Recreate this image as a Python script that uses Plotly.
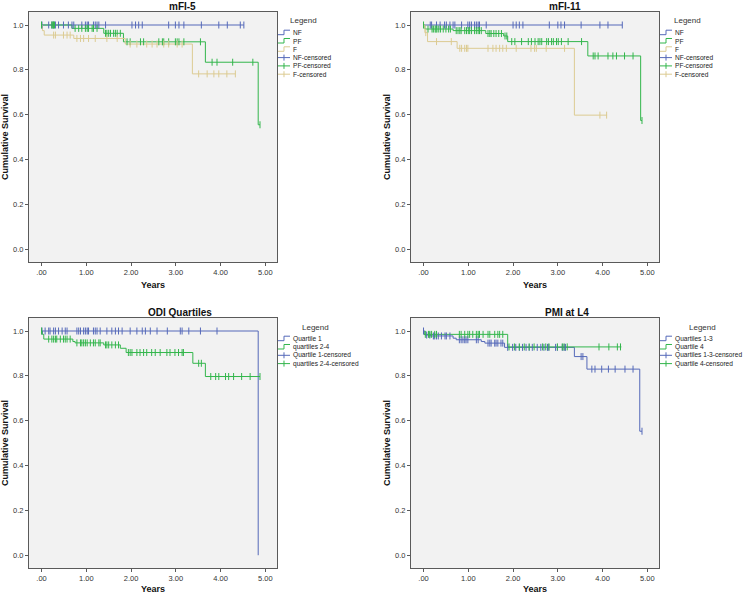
import plotly.graph_objects as go

# ---- data (time in years) ----
x_ticks = [0, 1, 2, 3, 4, 5]
x_tick_text = ['.00', '1.00', '2.00', '3.00', '4.00', '5.00']
y_ticks = [0, 0.2, 0.4, 0.6, 0.8, 1.0]

# mFI-5
mfi5_nf_events, mfi5_nf_surv, mfi5_nf_end = [], [], 4.52
mfi5_nf_cens = [0.01, 0.16, 0.23, 0.27, 0.31, 0.38, 0.49, 0.60, 0.68, 0.72, 0.90, 0.98, 1.02, 1.05,
                1.16, 1.20, 1.24, 1.28, 1.43, 2.02, 2.10, 2.17, 2.25, 2.84, 2.99, 3.07, 3.18, 3.57,
                3.96, 4.15, 4.44, 4.52]
mfi5_pf_events = [0.68, 1.39, 1.83, 3.66, 4.84]
mfi5_pf_surv = [0.985, 0.963, 0.925, 0.834, 0.555]
mfi5_pf_end = 4.88
mfi5_pf_cens = [0.0, 0.23, 0.25, 0.27, 0.29, 0.75, 0.83, 0.90, 0.98, 1.02, 1.05, 1.13, 1.16, 1.24,
                1.43, 1.46, 1.50, 1.54, 1.61, 1.65, 1.69, 1.76, 1.91, 1.98, 2.21, 2.28, 2.62, 2.70,
                2.73, 2.84, 2.99, 3.03, 3.07, 3.18, 3.55, 3.81, 3.92, 4.27, 4.72, 4.88]
mfi5_f_events = [0.02, 0.06, 0.72, 1.87, 3.37]
mfi5_f_surv = [0.975, 0.955, 0.94, 0.915, 0.782]
mfi5_f_end = 4.33
mfi5_f_cens = [0.27, 0.31, 0.49, 0.57, 0.64, 0.79, 0.87, 0.94, 1.05, 1.20, 1.46, 1.69, 1.98, 2.13,
               2.35, 2.47, 2.58, 2.73, 2.84, 3.03, 3.14, 3.51, 3.70, 3.85, 3.96, 4.14, 4.33]

# mFI-11
mfi11_nf_events, mfi11_nf_surv, mfi11_nf_end = [], [], 4.44
mfi11_nf_cens = [0.15, 0.18, 0.29, 0.37, 0.47, 0.51, 0.59, 0.66, 0.70, 0.85, 0.99, 1.03, 1.07, 1.14,
                 1.18, 1.22, 1.25, 1.40, 2.00, 2.07, 2.14, 2.22, 2.81, 3.00, 3.07, 3.15, 3.52, 3.94,
                 4.12, 4.44]
mfi11_pf_events = [0.03, 0.66, 1.39, 1.79, 1.88, 3.67, 4.85]
mfi11_pf_surv = [0.982, 0.975, 0.962, 0.951, 0.926, 0.862, 0.574]
mfi11_pf_end = 4.88
mfi11_pf_cens = [0.0, 0.10, 0.19, 0.22, 0.26, 0.28, 0.30, 0.34, 0.38, 0.44, 0.50, 0.56, 0.60, 0.73,
                 0.77, 0.81, 0.84, 0.92, 0.96, 1.00, 1.03, 1.07, 1.14, 1.18, 1.22, 1.25, 1.29, 1.44,
                 1.48, 1.51, 1.57, 1.62, 1.68, 1.74, 1.82, 1.86, 1.97, 2.04, 2.19, 2.34, 2.41, 2.49,
                 2.56, 2.60, 2.64, 2.75, 2.79, 2.86, 2.90, 2.97, 3.01, 3.08, 3.23, 3.53, 3.79, 3.83,
                 3.90, 4.12, 4.23, 4.31, 4.49, 4.68, 4.88]
mfi11_f_events = [0.03, 0.09, 0.75, 3.37]
mfi11_f_surv = [0.966, 0.926, 0.896, 0.598]
mfi11_f_end = 4.10
mfi11_f_cens = [0.05, 0.29, 0.62, 0.81, 0.85, 0.92, 0.96, 0.99, 1.44, 1.55, 1.62, 1.70, 1.77, 1.85,
                2.07, 2.40, 2.48, 2.52, 2.74, 3.15, 3.94, 4.09]

# ODI quartiles
odi_q1_events = [4.84]
odi_q1_surv = [0.0]
odi_q1_end = 4.84
odi_q1_cens = [0.01, 0.08, 0.16, 0.19, 0.27, 0.31, 0.38, 0.46, 0.53, 0.57, 0.79, 0.83, 0.87, 0.94,
               0.98, 1.02, 1.05, 1.16, 1.20, 1.24, 1.31, 1.46, 1.57, 1.65, 1.72, 1.80, 1.98, 2.13,
               2.25, 2.32, 2.43, 2.58, 2.81, 3.10, 3.14, 3.29, 3.55, 3.92]
odi_q24_events = [0.02, 0.05, 0.70, 0.75, 1.39, 1.76, 1.89, 3.38, 3.66]
odi_q24_surv = [0.985, 0.964, 0.953, 0.947, 0.938, 0.923, 0.904, 0.856, 0.797]
odi_q24_end = 4.88
odi_q24_cens = [0.0, 0.16, 0.23, 0.27, 0.31, 0.34, 0.42, 0.49, 0.53, 0.57, 0.64, 0.79, 0.87, 0.90,
                0.94, 0.98, 1.02, 1.09, 1.16, 1.20, 1.28, 1.31, 1.43, 1.46, 1.50, 1.57, 1.65, 1.72,
                1.94, 1.98, 2.02, 2.13, 2.20, 2.28, 2.35, 2.46, 2.54, 2.65, 2.80, 2.87, 2.98, 3.06,
                3.14, 3.17, 3.51, 3.57, 3.78, 3.89, 3.96, 4.11, 4.18, 4.29, 4.47, 4.66, 4.88]

# PMI at L4
pmi_q13_events = [0.03, 0.15, 0.66, 0.73, 1.29, 1.37, 1.81, 3.37, 3.65, 4.83]
pmi_q13_surv = [0.982, 0.978, 0.968, 0.961, 0.953, 0.946, 0.927, 0.886, 0.83, 0.553]
pmi_q13_end = 4.88
pmi_q13_cens = [0.0, 0.07, 0.14, 0.22, 0.25, 0.29, 0.33, 0.40, 0.48, 0.51, 0.59, 0.80, 0.84, 0.88,
                0.92, 0.95, 0.99, 1.18, 1.22, 1.44, 1.48, 1.51, 1.59, 1.62, 1.66, 1.73, 1.77, 1.88,
                1.99, 2.06, 2.14, 2.21, 2.29, 2.36, 2.43, 2.54, 2.62, 2.69, 2.77, 2.80, 2.95, 2.99,
                3.10, 3.14, 3.17, 3.52, 3.56, 3.76, 3.83, 3.98, 4.13, 4.28, 4.50, 4.68, 4.88]
pmi_q4_events = [0.01, 1.88]
pmi_q4_surv = [0.985, 0.929]
pmi_q4_end = 4.42
pmi_q4_cens = [0.04, 0.11, 0.14, 0.18, 0.25, 0.29, 0.80, 0.84, 0.92, 0.99, 1.03, 1.10, 1.18, 1.22,
               1.25, 1.33, 1.44, 1.48, 1.59, 1.66, 1.70, 1.77, 1.91, 2.03, 2.14, 2.25, 2.36, 2.47,
               2.66, 2.73, 2.80, 2.99, 3.10, 3.14, 3.21, 3.92, 4.14, 4.33, 4.40]

titles = ['mFI-5', 'mFI-11', 'ODI Quartiles', 'PMI at L4']

BLUE = '#5569b9'
GREEN = '#33b64c'
TAN = '#dccb92'
FONT = 'Liberation Sans, Arial, sans-serif'

panels = [
    [('NF', BLUE, mfi5_nf_events, mfi5_nf_surv, mfi5_nf_end, mfi5_nf_cens),
     ('PF', GREEN, mfi5_pf_events, mfi5_pf_surv, mfi5_pf_end, mfi5_pf_cens),
     ('F', TAN, mfi5_f_events, mfi5_f_surv, mfi5_f_end, mfi5_f_cens)],
    [('NF', BLUE, mfi11_nf_events, mfi11_nf_surv, mfi11_nf_end, mfi11_nf_cens),
     ('PF', GREEN, mfi11_pf_events, mfi11_pf_surv, mfi11_pf_end, mfi11_pf_cens),
     ('F', TAN, mfi11_f_events, mfi11_f_surv, mfi11_f_end, mfi11_f_cens)],
    [('Quartile 1', BLUE, odi_q1_events, odi_q1_surv, odi_q1_end, odi_q1_cens),
     ('quartiles 2-4', GREEN, odi_q24_events, odi_q24_surv, odi_q24_end, odi_q24_cens)],
    [('Quartiles 1-3', BLUE, pmi_q13_events, pmi_q13_surv, pmi_q13_end, pmi_q13_cens),
     ('Quartile 4', GREEN, pmi_q4_events, pmi_q4_surv, pmi_q4_end, pmi_q4_cens)],
]

# panel geometry in pixels: frame (left, right, top, bottom), title, legend
W, H = 745, 596
frames = [(29, 277, 12, 262), (411, 659, 12, 262), (29, 277, 318, 568), (411, 659, 318, 568)]
title_pos = [(182, 6), (565, 6), (180, 312), (567, 312)]
years_y = [285, 285, 589, 589]
legend_title_pos = [(303, 21), (687, 21), (315, 327), (702, 327)]
legend_sym_x = [278, 660, 278, 660]
legend_first_y = [32.7, 32.7, 338.7, 338.7]
legend_step = 8.3


def fx(p):
    return p / W


def fy(p):
    return 1 - p / H


def level_at(t, events, surv):
    s = 1.0
    for e, v in zip(events, surv):
        if e <= t:
            s = v
    return s


fig = go.Figure()
layout = dict(width=W, height=H, margin=dict(l=0, r=0, t=0, b=0),
              paper_bgcolor='white', plot_bgcolor='#f2f2f2', showlegend=False,
              annotations=[], shapes=[])

for i, groups in enumerate(panels):
    n = '' if i == 0 else str(i + 1)
    xa, ya = 'x' + n, 'y' + n
    for name, color, events, surv, end, cens in groups:
        xs = [0] + events + [end]
        ys = [1] + surv + [surv[-1] if surv else 1]
        fig.add_trace(go.Scatter(x=xs, y=ys, mode='lines', line=dict(color=color, width=1, shape='hv'),
                                 name=name, xaxis=xa, yaxis=ya, hoverinfo='skip'))
    for name, color, events, surv, end, cens in groups:
        fig.add_trace(go.Scatter(x=cens, y=[level_at(t, events, surv) for t in cens], mode='markers',
                                 marker=dict(symbol='line-ns', size=5, line=dict(color=color, width=1)),
                                 name=name + '-censored', xaxis=xa, yaxis=ya))

    l, r, t, b = frames[i]
    axis_common = dict(showline=True, mirror=True, linecolor='#5a5a5a', linewidth=1,
                       ticks='outside', ticklen=3, tickcolor='#5a5a5a', showgrid=False,
                       zeroline=False, tickfont=dict(family=FONT, size=7.5, color='#333'))
    layout['xaxis' + n] = dict(axis_common, domain=[fx(l), fx(r)], range=[-0.28, 5.26],
                               tickvals=x_ticks, ticktext=x_tick_text, anchor=ya)
    layout['yaxis' + n] = dict(axis_common, domain=[fy(b), fy(t)], range=[-0.057, 1.058],
                               tickvals=y_ticks, tickformat='.1f', anchor=xa)

    ann = layout['annotations']
    ann.append(dict(text='<b>' + titles[i] + '</b>', x=fx(title_pos[i][0]), y=fy(title_pos[i][1]),
                    xref='paper', yref='paper', showarrow=False, xanchor='center', yanchor='middle',
                    font=dict(family=FONT, size=10, color='#111')))
    ann.append(dict(text='<b>Years</b>', x=fx((l + r) / 2), y=fy(years_y[i]),
                    xref='paper', yref='paper', showarrow=False, xanchor='center', yanchor='middle',
                    font=dict(family=FONT, size=9, color='#111')))
    ann.append(dict(text='<b>Cumulative Survival</b>', x=fx(l - 24), y=fy((t + b) / 2), textangle=-90,
                    xref='paper', yref='paper', showarrow=False, xanchor='center', yanchor='middle',
                    font=dict(family=FONT, size=9, color='#111')))

    # SPSS-style legend: step symbols for curves, "+" for censored marks
    ann.append(dict(text='Legend', x=fx(legend_title_pos[i][0]), y=fy(legend_title_pos[i][1]),
                    xref='paper', yref='paper', showarrow=False, xanchor='center', yanchor='middle',
                    font=dict(family=FONT, size=8, color='#333')))
    entries = [(g[0], g[1], False) for g in groups] + [(g[0] + '-censored', g[1], True) for g in groups]
    sx = legend_sym_x[i]
    for k, (label, color, censored) in enumerate(entries):
        yc = legend_first_y[i] + k * legend_step
        if censored:
            path = 'M%f,%f L%f,%f M%f,%f L%f,%f' % (fx(sx), fy(yc), fx(sx + 12), fy(yc),
                                                 fx(sx + 6), fy(yc - 3), fx(sx + 6), fy(yc + 3))
        else:
            path = 'M%f,%f L%f,%f L%f,%f L%f,%f' % (fx(sx), fy(yc + 2), fx(sx + 6), fy(yc + 2),
                                                 fx(sx + 6), fy(yc - 2.5), fx(sx + 12), fy(yc - 2.5))
        layout['shapes'].append(dict(type='path', path=path, xref='paper', yref='paper',
                                     line=dict(color=color, width=1)))
        ann.append(dict(text=label, x=fx(sx + 12.5), y=fy(yc), xref='paper', yref='paper',
                        showarrow=False, xanchor='left', yanchor='middle',
                        font=dict(family=FONT, size=6.6, color='#222')))

fig.update_layout(**layout)
# the page's default 8px body margin would push the figure off the window
fig.write_html("out.html", config={'displayModeBar': False},
               post_script="document.body.style.margin='0';document.body.style.overflow='hidden';")
